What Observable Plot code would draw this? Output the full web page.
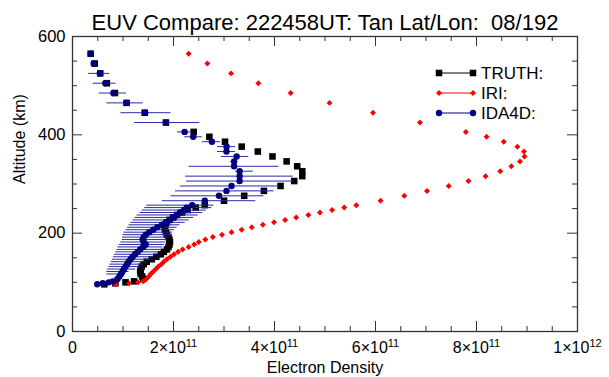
<!DOCTYPE html>
<html><head><meta charset="utf-8">
<script src="https://cdn.jsdelivr.net/npm/d3@7"></script>
<script src="https://cdn.jsdelivr.net/npm/@observablehq/plot@0.6"></script>
<style>
body{margin:0;background:#fff;}
#chart{width:609px;height:377px;}
svg text{white-space:pre;}
</style></head><body><div id="chart"></div>
<script>
const title = "EUV Compare: 222458UT: Tan Lat/Lon:  08/192";
const xLabel = "Electron Density";
const yLabel = "Altitude (km)";
const unit = 1e11; // series values below are in units of 1e11
const altitude = [565,545,525,505,485,465,445,425,406,396,386,376,366,356,346,336,326,316,306,296,286,276,266,257,252,247,242,237,232,227,222,217,212,207,202,197,192,187,182,177,172,167,162,157,152,147,142,137,132,127,122,117,112,107,102,100,98,96];
const truth = [0.36,0.44,0.55,0.68,0.84,1.07,1.43,1.85,2.40,2.71,3.02,3.35,3.67,3.96,4.24,4.45,4.55,4.55,4.39,4.12,3.79,3.40,3.00,2.62,2.44,2.28,2.17,2.07,1.99,1.92,1.87,1.84,1.83,1.83,1.85,1.87,1.90,1.92,1.93,1.92,1.90,1.87,1.81,1.75,1.66,1.57,1.47,1.41,1.37,1.35,1.34,1.35,1.38,1.40,1.22,1.05,0.85,0.63];
const iri = [2.30,2.67,3.14,3.68,4.32,5.09,5.95,6.88,7.79,8.20,8.54,8.81,8.94,8.95,8.86,8.69,8.47,8.18,7.84,7.45,7.02,6.57,6.10,5.62,5.38,5.14,4.90,4.67,4.43,4.21,3.99,3.77,3.55,3.35,3.15,2.96,2.78,2.63,2.50,2.41,2.30,2.18,2.09,2.01,1.94,1.87,1.81,1.76,1.70,1.65,1.60,1.55,1.51,1.46,1.40,1.30,1.12,0.85];
const ida4d = [0.36,0.42,0.54,0.65,0.81,1.07,1.44,1.85,2.22,2.39,2.76,3.05,3.05,3.25,3.20,3.20,3.31,3.31,3.31,3.15,3.05,2.90,2.62,2.37,2.26,2.21,2.13,2.07,2.01,1.93,1.85,1.77,1.68,1.60,1.52,1.45,1.41,1.39,1.41,1.45,1.40,1.34,1.29,1.24,1.19,1.15,1.11,1.08,1.05,1.02,0.99,0.96,0.93,0.89,0.80,0.72,0.60,0.49];
const ida4dLo = [null,null,0.32,0.41,0.53,0.68,0.96,1.23,2.08,2.22,2.57,2.87,2.87,2.95,3.13,2.31,3.23,2.24,2.26,2.14,2.04,1.95,1.78,1.47,1.43,1.38,1.34,1.28,1.24,1.20,1.16,1.12,1.09,1.06,1.02,1.00,0.99,0.99,0.96,0.93,0.90,0.88,0.86,0.83,0.81,0.79,0.77,0.74,0.72,0.69,0.68,0.68,null,null,null,null,null,null];
const ida4dHi = [null,null,0.74,0.86,1.07,1.40,1.95,2.52,2.36,2.57,2.93,3.23,3.23,3.49,3.27,4.09,3.58,4.37,4.39,4.09,3.99,3.79,3.63,2.80,2.76,2.65,2.58,2.49,2.40,2.31,2.23,2.13,2.07,2.02,1.98,1.96,1.91,1.88,1.85,1.82,1.79,1.77,1.72,1.67,1.61,1.54,1.46,1.40,1.34,1.25,1.12,1.05,null,null,null,null,null,null];
const xTicks = [0,2e11,4e11,6e11,8e11,1e12];
const xTickBase = ["0","2×10","4×10","6×10","8×10","1×10"];
const xTickExp = ["","11","11","11","11","12"];
const yTicks = [0,200,400,600];
const seriesNames = ["TRUTH:","IRI:","IDA4D:"];
const seriesColors = ["#000000","#ff0000","#000080"];
const barColor = "#2b2ba8";

const W = 609, H = 377;
const mT = 36, mR = 32, mB = 46, mL = 72;
const fw = W - mL - mR, fh = H - mT - mB;

const rows = altitude.map((a, i) => ({
  alt: a, truth: truth[i] * unit, iri: iri[i] * unit, ida: ida4d[i] * unit,
  lo: ida4dLo[i] == null ? null : ida4dLo[i] * unit,
  hi: ida4dHi[i] == null ? null : ida4dHi[i] * unit
}));
const bars = rows.filter(d => d.lo != null);
const xMinor = d3.range(0, 1e12 + 1, 5e10).filter(v => !xTicks.includes(v));
const yMinor = d3.range(0, 601, 50).filter(v => !yTicks.includes(v));
const tc = "#333";

const plot = Plot.plot({
  width: W, height: H, marginTop: mT, marginRight: mR, marginBottom: mB, marginLeft: mL,
  x: {domain: [0, 1e12]},
  y: {domain: [0, 600]},
  style: {fontFamily: "'Liberation Sans', Arial, sans-serif", fontSize: "16px", background: "#fff", color: "#000"},
  marks: [
    Plot.ruleX(xTicks, {x: d => d, insetTop: fh - 10, stroke: tc}),
    Plot.ruleX(xTicks, {x: d => d, insetBottom: fh - 10, stroke: tc}),
    Plot.ruleX(xMinor, {x: d => d, insetTop: fh - 5, stroke: tc}),
    Plot.ruleX(xMinor, {x: d => d, insetBottom: fh - 5, stroke: tc}),
    Plot.ruleY(yTicks, {y: d => d, insetRight: fw - 10, stroke: tc}),
    Plot.ruleY(yTicks, {y: d => d, insetLeft: fw - 10, stroke: tc}),
    Plot.ruleY(yMinor, {y: d => d, insetRight: fw - 5, stroke: tc}),
    Plot.ruleY(yMinor, {y: d => d, insetLeft: fw - 5, stroke: tc}),
    Plot.frame({stroke: tc, strokeWidth: 1.3}),
    Plot.axisX({ticks: xTicks, tickSize: 0, tickPadding: 10, tickFormat: d => { const i = xTicks.indexOf(d); return xTickBase[i] + xTickExp[i]; }, label: null, fontSize: 16}),
    Plot.axisY({ticks: yTicks, tickSize: 0, tickPadding: 7, label: null, fontSize: 16.5}),
    Plot.text([xLabel], {frameAnchor: "bottom", lineAnchor: "middle", dy: 36, fontSize: 16}),
    Plot.text([yLabel], {frameAnchor: "left", lineAnchor: "middle", dx: -53, rotate: -90, fontSize: 16}),
    Plot.text([title], {frameAnchor: "top", lineAnchor: "middle", dy: -14, fontSize: 22}),
    Plot.dot(rows, {x: "truth", y: "alt", symbol: "square", r: 3.7, fill: seriesColors[0], stroke: null}),
    Plot.dot(rows, {x: "iri", y: "alt", symbol: "diamond2", r: 2.7, fill: seriesColors[1], stroke: null}),
    Plot.ruleY(bars, {y: "alt", x1: "lo", x2: "hi", stroke: barColor, strokeWidth: 1}),
    Plot.dot(rows, {x: "ida", y: "alt", symbol: "circle", r: 3.2, fill: seriesColors[2], stroke: null})
  ]
});
document.getElementById("chart").appendChild(plot);

const svg = d3.select(plot);
// superscript exponents on x tick labels
svg.selectAll("text").each(function() {
  const t = d3.select(this);
  if (t.selectAll("tspan").size() > 0) return;
  const s = t.text();
  const i = xTickBase.findIndex((b, k) => xTickExp[k] && s === b + xTickExp[k]);
  if (i < 0) return;
  t.text(null);
  t.append("tspan").text(xTickBase[i]);
  t.append("tspan").attr("dy", "-0.5em").attr("font-size", 11).text(xTickExp[i]);
});

// legend (top right, inside the frame)
const lg = svg.append("g").attr("font-family", "'Liberation Sans', Arial, sans-serif").attr("font-size", 17).attr("text-anchor", "start");
const symbols = [d3.symbolSquare, d3.symbolDiamond2, d3.symbolCircle];
const sizes = [3.7, 2.7, 3.2].map(r => r * r * Math.PI);
const lx1 = 439, lx2 = 473, ly0 = 73, lstep = 20;
seriesNames.forEach((name, i) => {
  const y = ly0 + i * lstep;
  lg.append("line").attr("x1", lx1).attr("x2", lx2).attr("y1", y).attr("y2", y).attr("stroke", seriesColors[i]).attr("stroke-width", 1);
  [lx1, lx2].forEach(x => lg.append("path").attr("d", d3.symbol(symbols[i], sizes[i])()).attr("transform", `translate(${x},${y})`).attr("fill", seriesColors[i]));
  lg.append("text").attr("x", 481).attr("y", y).attr("dy", "0.36em").attr("text-anchor", "start").text(name);
});
</script></body></html>
